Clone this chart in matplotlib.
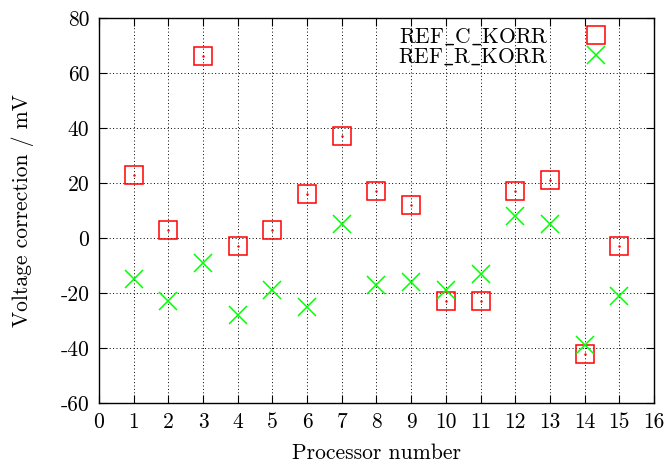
import numpy as np
import matplotlib.pyplot as plt

# processor numbers and voltage corrections (mV)
proc = [1, 2, 3, 4, 5, 6, 7, 8, 9, 10, 11, 12, 13, 14, 15]
ref_c_korr = [23, 3, 66, -3, 3, 16, 37, 17, 12, -23, -23, 17, 21, -42, -3]
ref_r_korr = [-15, -23, -9, -28, -19, -25, 5, -17, -16, -19, -13, 8, 5, -39, -21]

plt.rcParams['font.family'] = ['cmr10', 'DejaVu Serif']
plt.rcParams['axes.unicode_minus'] = False
plt.rcParams['axes.formatter.use_mathtext'] = False
plt.rcParams['mathtext.fontset'] = 'cm'

fig = plt.figure(figsize=(6.67, 4.69), dpi=100)
ax = fig.add_axes([0.1484, 0.1407, 0.832, 0.821])

ax.plot(proc, ref_c_korr, linestyle='none', marker='s', markersize=13.5,
        markerfacecolor='none', markeredgecolor='#ff0000', markeredgewidth=1.1,
        label=r'REF$\_$C$\_$KORR')
ax.plot(proc, ref_r_korr, linestyle='none', marker='x', markersize=13.5,
        color='#00ff00', markeredgewidth=1.1, label=r'REF$\_$R$\_$KORR')
# small dots in the middle of the boxes
ax.plot(proc, ref_c_korr, linestyle='none', marker='.', markersize=1.5,
        color='#ff0000')

ax.set_xlim(0, 16)
ax.set_ylim(-60, 80)
ax.set_xticks(np.arange(0, 17, 1))
ax.set_yticks(np.arange(-60, 81, 20))
ax.tick_params(direction='in', length=6, width=0.8, top=True, right=True,
               labelsize=15.5, pad=7)
ax.grid(True, linestyle=(0, (1, 2.5)), color='black', linewidth=0.7)
for s in ax.spines.values():
    s.set_linewidth(1.0)

ax.set_xlabel('Processor number', fontsize=15.5, labelpad=8)
ax.set_ylabel('Voltage correction / mV', fontsize=15.5, labelpad=19)

leg = ax.legend(loc='upper right', bbox_to_anchor=(0.957, 1.013), frameon=False,
                markerfirst=False, fontsize=15.5, handletextpad=1.2,
                labelspacing=0.0, borderaxespad=0.2)

fig.savefig('out.png', dpi=100)
